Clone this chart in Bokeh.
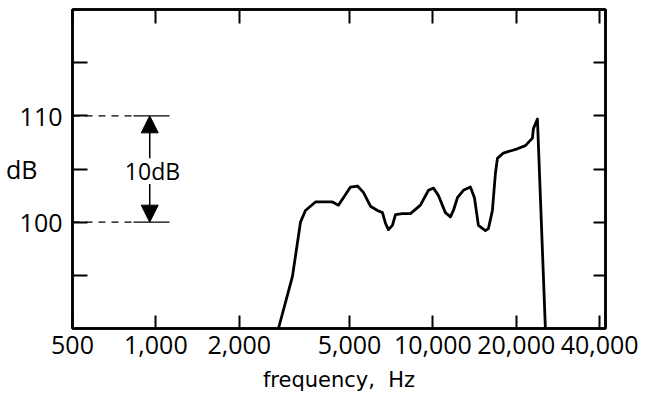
from bokeh.plotting import figure
from bokeh.models import (LogAxis, LinearAxis, FixedTicker, NumeralTickFormatter,
                          Label, Arrow, NormalHead, Range1d, LogScale)
from bokeh.embed import file_html
from bokeh.resources import INLINE

# --- data ---
freq_hz = [2770, 3112, 3327, 3467, 3768, 4341, 4561, 4754, 5040, 5341, 5614, 5951,
           6308, 6576, 6742, 6912, 7145, 7327, 7765, 8299, 9018, 9639, 10049, 10472,
           11096, 11570, 11862, 12265, 12890, 13661, 14125, 14602, 15475, 15870,
           16404, 16820, 17104, 17977, 20195, 21585, 22877, 23070, 23849, 25480]
level_db = [90.0, 94.9, 100.0, 101.1, 101.9, 101.9, 101.6, 102.3, 103.3, 103.4, 102.8,
            101.5, 101.1, 100.9, 99.9, 99.3, 99.7, 100.7, 100.8, 100.8, 101.6, 103.0,
            103.2, 102.5, 100.9, 100.5, 101.1, 102.3, 103.0, 103.3, 102.3, 99.7, 99.2,
            99.4, 101.1, 104.6, 106.0, 106.5, 106.9, 107.2, 107.9, 108.8, 109.7, 90.0]

x_ticks = [500, 1000, 2000, 5000, 10000, 20000, 40000]
y_ticks = [95, 100, 105, 110, 115]
y_tick_labels = {95: "", 100: "100", 105: "dB\u2002\u2002", 110: "110", 115: ""}

x_title = "frequency,\u00a0 Hz"

# reference lines for the 10 dB scale marker
ref_levels = [110, 100]
ref_dash_start_hz = 500
ref_dash_end_hz = 830
ref_solid_end_hz = 1120
marker_hz = 950
marker_text_hz = 972
marker_text_db = 104.85
marker_gap_top = 106.0
marker_gap_bottom = 103.6

FONT = "Open Sans"

p = figure(width=653, height=394, x_axis_type=None, y_axis_type=None,
           x_range=Range1d(499.9, 42000), y_range=Range1d(90, 120),
           output_backend="svg", toolbar_location=None,
           min_border_left=72, min_border_right=48, min_border_top=9, min_border_bottom=65)
p.x_scale = LogScale()

p.background_fill_color = "white"
p.border_fill_color = "white"
p.outline_line_color = "black"
p.outline_line_width = 2.5
p.xgrid.visible = False
p.ygrid.visible = False


def style_axis(ax, labels=True, tick_len=13, size="25px"):
    ax.axis_line_color = "black"
    ax.axis_line_width = 2.5
    ax.major_tick_line_color = "black"
    ax.major_tick_line_width = 2
    ax.major_tick_in = tick_len
    ax.major_tick_out = 0
    ax.minor_tick_line_color = None
    if labels:
        ax.major_label_text_font = FONT
        ax.major_label_text_font_size = size
        ax.major_label_text_color = "black"
    else:
        ax.major_label_text_font_size = "0px"
        ax.major_label_text_color = None


xb = LogAxis(ticker=FixedTicker(ticks=x_ticks), formatter=NumeralTickFormatter(format="0,0"))
style_axis(xb, True, 13)
xb.major_label_standoff = 7
xb.axis_label = x_title
xb.axis_label_text_font = "DejaVu Sans"
xb.axis_label_text_font_size = "21px"
xb.axis_label_text_font_style = "normal"
xb.axis_label_text_color = "black"
xb.axis_label_standoff = 11
p.add_layout(xb, "below")

xt = LogAxis(ticker=FixedTicker(ticks=x_ticks))
style_axis(xt, False, 14)
p.add_layout(xt, "above")

yl = LinearAxis(ticker=FixedTicker(ticks=y_ticks), major_label_overrides=y_tick_labels)
style_axis(yl, True, 15)
yl.major_label_standoff = 10
p.add_layout(yl, "left")

yr = LinearAxis(ticker=FixedTicker(ticks=y_ticks))
style_axis(yr, False, 12)
p.add_layout(yr, "right")

# reference lines at 100 and 110 dB
p.segment(x0=[ref_dash_start_hz] * 2, y0=ref_levels, x1=[ref_dash_end_hz] * 2, y1=ref_levels,
          line_color="black", line_width=1.2, line_dash="7 6")
p.segment(x0=[ref_dash_end_hz] * 2, y0=ref_levels, x1=[ref_solid_end_hz] * 2, y1=ref_levels,
          line_color="black", line_width=1.2)

# 10 dB double arrow
p.add_layout(Arrow(end=NormalHead(size=17, fill_color="black", line_color="black"),
                   x_start=marker_hz, y_start=marker_gap_top, x_end=marker_hz, y_end=ref_levels[0],
                   line_color="black", line_width=1.5))
p.add_layout(Arrow(end=NormalHead(size=17, fill_color="black", line_color="black"),
                   x_start=marker_hz, y_start=marker_gap_bottom, x_end=marker_hz, y_end=ref_levels[1],
                   line_color="black", line_width=1.5))
p.add_layout(Label(x=marker_text_hz, y=marker_text_db, text="10dB", text_font=FONT,
                   text_font_size="23px", text_align="center", text_baseline="middle",
                   text_color="black"))

# the response curve
p.line(freq_hz, level_db, line_color="black", line_width=2.8, line_join="round")

open("out.html", "w").write(file_html(p, INLINE))
